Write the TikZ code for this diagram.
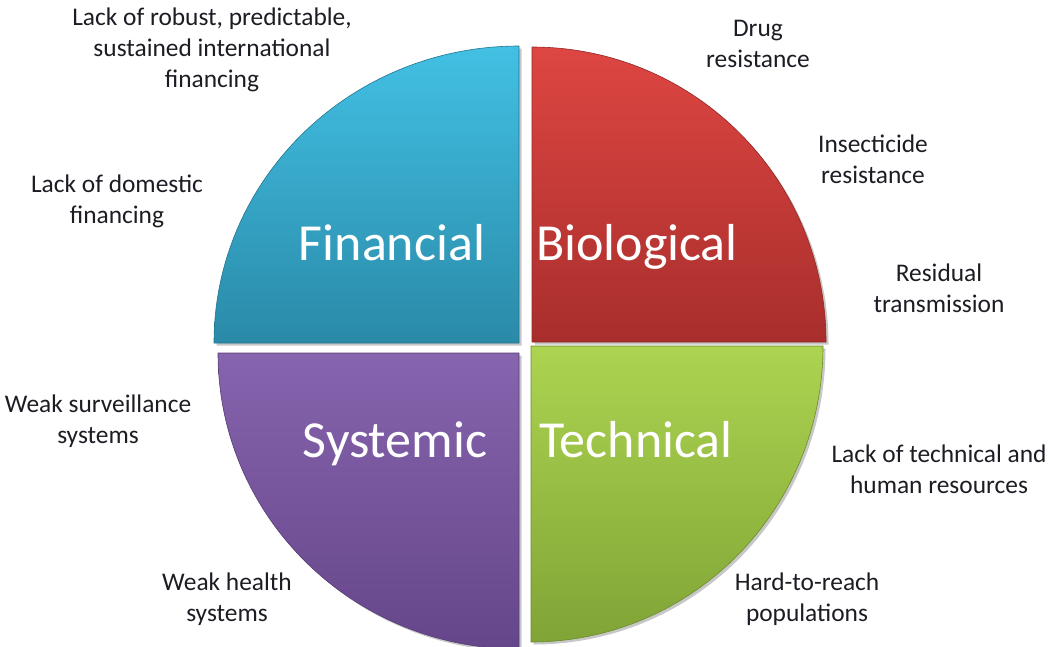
\documentclass[tikz,border=0pt]{standalone}
\usepackage{fontspec}
\setmainfont{Carlito}
\usepackage{tikz}
\definecolor{finTop}{RGB}{66,192,228}
\definecolor{finBot}{RGB}{42,138,168}
\definecolor{bioTop}{RGB}{222,70,66}
\definecolor{bioBot}{RGB}{168,46,44}
\definecolor{sysTop}{RGB}{134,100,174}
\definecolor{sysBot}{RGB}{102,70,138}
\definecolor{tecTop}{RGB}{172,212,80}
\definecolor{tecBot}{RGB}{128,164,54}
\definecolor{capText}{RGB}{28,28,36}
\tikzset{
	x=1pt, y=-1pt,
	cause/.style = {text=capText, align=center, anchor=base, inner sep=0pt,
		font=\fontsize{25.4}{31}\selectfont},% anchor base = baseline of last line
	quad label/.style = {text=white, anchor=base, inner sep=0pt,
		font=\fontsize{52}{58}\selectfont},
	sector shadow/.style = {fill=black, opacity=.22, xshift=2.5pt, yshift=-2.5pt}
}
% corner x, corner y, start angle, end angle, x radius, y radius
\newcommand{\sector}[6]{(#1,#2) -- ++({#5*cos(#3)},0) arc[start angle=#3, end angle=#4, x radius=#5pt, y radius=#6pt] -- cycle}

\begin{document}
\begin{tikzpicture}
	\useasboundingbox (0,0) rectangle (1051,646);
	% shadows
	\path[sector shadow] \sector{519}{343}{180}{90}{305}{297};
	\path[sector shadow] \sector{532}{342}{0}{90}{294}{295};
	\path[sector shadow] \sector{519}{353}{180}{270}{301}{296};
	\path[sector shadow] \sector{531}{346}{0}{-90}{292}{296};
	% the four pieces
	\shade[top color=finTop, bottom color=finBot, draw=finBot!85!black, line width=.6pt] \sector{519}{343}{180}{90}{305}{297};
	\shade[top color=bioTop, bottom color=bioBot, draw=bioBot!85!black, line width=.6pt] \sector{532}{342}{0}{90}{294}{295};
	\shade[top color=sysTop, bottom color=sysBot, draw=sysBot!85!black, line width=.6pt] \sector{519}{353}{180}{270}{301}{296};
	\shade[top color=tecTop, bottom color=tecBot, draw=tecBot!85!black, line width=.6pt] \sector{531}{346}{0}{-90}{292}{296};
	\node[quad label] (fin) at (392,260) {Financial};
	\node[quad label] (bio) at (637,260) {Biological};
	\node[quad label] (sys) at (395,457) {Systemic};
	\node[quad label] (tec) at (636,457) {Technical};
	% barriers round the circle
	\node[cause] (intl) at (212,87) {Lack of robust, predictable,\\sustained international\\financing};
	\node[cause] (dom) at (117,223) {Lack of domestic\\financing};
	\node[cause] (drug) at (758,67) {Drug\\resistance};
	\node[cause] (insect) at (873,183) {Insecticide\\resistance};
	\node[cause] (resid) at (939,312) {Residual\\transmission};
	\node[cause] (surv) at (98,443) {Weak surveillance\\systems};
	\node[cause] (hsys) at (227,621) {Weak health\\systems};
	\node[cause] (staff) at (939,493) {Lack of technical and\\human resources};
	\node[cause] (reach) at (807,621) {Hard-to-reach\\populations};
\end{tikzpicture}
\end{document}
